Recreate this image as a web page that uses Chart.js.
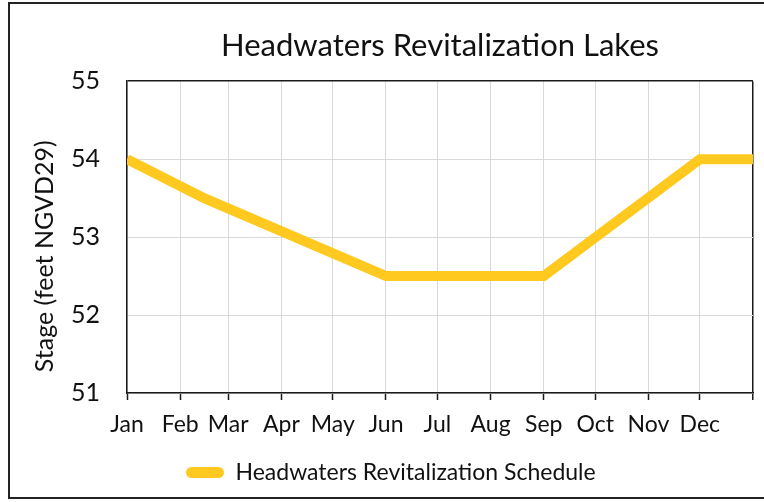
<!DOCTYPE html>
<html>
<head>
<meta charset="utf-8">
<title>Headwaters Revitalization Lakes</title>
<script src="https://cdn.jsdelivr.net/npm/chart.js@4"></script>
<style>
  html, body { margin: 0; padding: 0; background: #fff; }
  #wrap { position: relative; width: 764px; height: 502px; overflow: hidden; }
  #frame {
    position: absolute; left: 8px; top: 2px; width: 780px; height: 497px;
    border: 2px solid #222; box-sizing: border-box; pointer-events: none;
  }
  canvas { position: absolute; left: 0; top: 0; }
</style>
</head>
<body>
<div id="wrap">
  <canvas id="stageChart" width="764" height="502"></canvas>
  <div id="frame"></div>
</div>
<script>
// ---------- Data ----------
const MONTH_LABELS = ['Jan', 'Feb', 'Mar', 'Apr', 'May', 'Jun',
                      'Jul', 'Aug', 'Sep', 'Oct', 'Nov', 'Dec', ''];
// day of year where each month starts (last one = next Jan 1)
const MONTH_START_DAYS = [0, 31, 59, 90, 120, 151, 181, 212, 243, 273, 304, 334, 365];

// schedule break points (day of year) and stage (feet NGVD29)
const SCHEDULE_DAYS  = [0, 45, 151, 243, 334, 365];
const SCHEDULE_STAGE = [54.0, 53.5, 52.5, 52.5, 54.0, 54.0];

const Y_MIN = 51;
const Y_MAX = 55;

// ---------- Style ----------
const FONT       = 'Lato, "Open Sans", sans-serif';
const LINE_COLOR = '#FFC920';
const GRID_COLOR = '#d9d9d9';
const AXIS_COLOR = '#1a1a1a';
const LEGEND_X   = 186;

// move the legend so it starts where the reference has it
const legendShift = {
  id: 'legendShift',
  afterLayout(chart) {
    const lg = chart.legend;
    if (lg) lg.left = LEGEND_X - lg.options.labels.padding;
  },
};

const points = SCHEDULE_DAYS.map((d, i) => ({ x: d, y: SCHEDULE_STAGE[i] }));

new Chart(document.getElementById('stageChart'), {
  type: 'line',
  data: {
    datasets: [{
      label: 'Headwaters Revitalization Schedule',
      data: points,
      borderColor: LINE_COLOR,
      backgroundColor: LINE_COLOR,
      borderWidth: 10,
      borderJoinStyle: 'miter',
      borderCapStyle: 'butt',
      pointRadius: 0,
      tension: 0,
      clip: 0,
    }],
  },
  options: {
    responsive: false,
    animation: false,
    layout: { padding: { left: 0, right: 5, top: 0, bottom: 8 } },
    scales: {
      x: {
        type: 'linear',
        min: 0,
        max: 365,
        afterBuildTicks(scale) {
          scale.ticks = MONTH_START_DAYS.map(v => ({ value: v }));
        },
        afterFit(scale) { scale.height = 50; },
        ticks: {
          autoSkip: false,
          maxRotation: 0,
          padding: 11,
          color: '#111',
          font: { family: FONT, size: 23 },
          callback: (value, index) => MONTH_LABELS[index] ?? '',
        },
        grid: {
          color: ctx => (ctx.tick && ctx.tick.value === 365 ? AXIS_COLOR : GRID_COLOR),
          lineWidth: ctx => (ctx.tick && ctx.tick.value === 365 ? 1.5 : 1),
          tickColor: AXIS_COLOR,
          tickLength: 7,
          tickWidth: 1.5,
        },
        border: { color: AXIS_COLOR, width: 1.5 },
      },
      y: {
        min: Y_MIN,
        max: Y_MAX,
        afterFit(scale) { scale.width = 127; },
        ticks: {
          stepSize: 1,
          padding: 27,
          color: '#111',
          font: { family: FONT, size: 25 },
        },
        grid: {
          color: ctx => (ctx.tick && ctx.tick.value === Y_MAX ? AXIS_COLOR : GRID_COLOR),
          lineWidth: ctx => (ctx.tick && ctx.tick.value === Y_MAX ? 1.5 : 1),
          drawTicks: false,
        },
        border: { color: AXIS_COLOR, width: 1.5 },
        title: {
          display: true,
          text: 'Stage (feet NGVD29)      ',
          color: '#111',
          font: { family: FONT, size: 25 },
          padding: { top: 30, bottom: 0 },
        },
      },
    },
    plugins: {
      title: {
        display: true,
        fullSize: false,
        text: 'Headwaters Revitalization Lakes',
        color: '#111',
        font: { family: FONT, size: 31, weight: 'normal' },
        padding: { top: 27, bottom: 17 },
      },
      legend: {
        position: 'bottom',
        align: 'start',
        labels: {
          color: '#111',
          font: { family: FONT, size: 23 },
          boxWidth: 38,
          boxHeight: 11,
          useBorderRadius: true,
          borderRadius: 5.5,
          padding: 18,
          generateLabels(chart) {
            const items = Chart.defaults.plugins.legend.labels.generateLabels(chart);
            items.forEach(it => { it.lineWidth = 0; });
            return items;
          },
        },
      },
      tooltip: { enabled: false },
    },
  },
  plugins: [legendShift],
});
</script>
</body>
</html>
